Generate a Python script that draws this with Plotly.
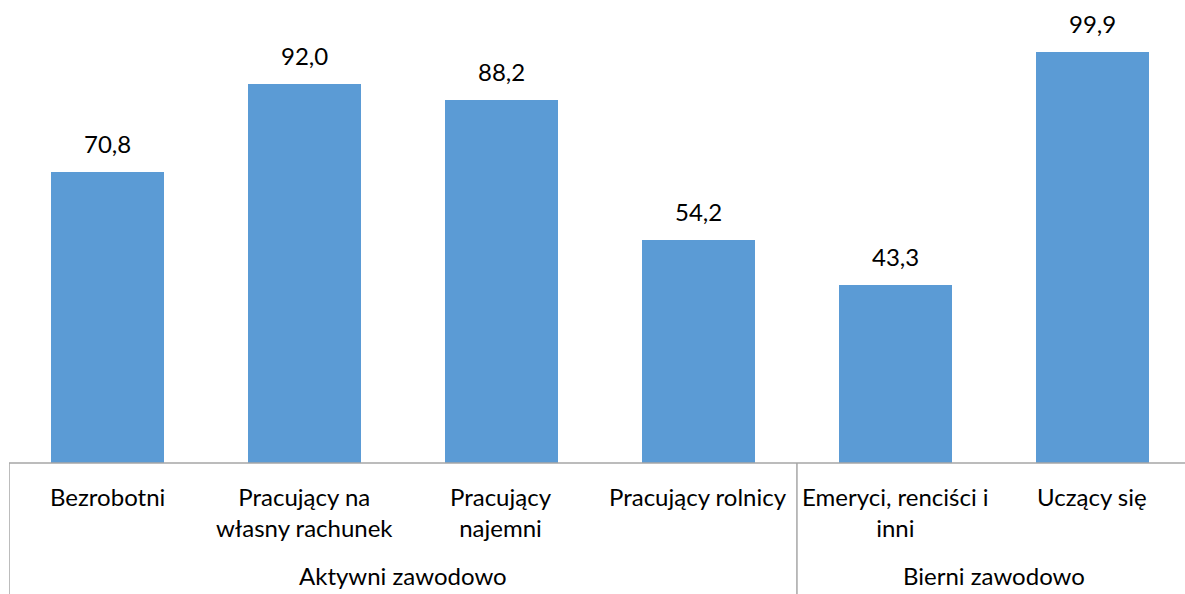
import plotly.graph_objects as go

# Dane
kategorie = ["Bezrobotni", "Pracujący na<br>własny rachunek", "Pracujący<br>najemni",
             "Pracujący rolnicy", "Emeryci, renciści i<br>inni", "Uczący się"]
wartosci = [70.8, 92.0, 88.2, 54.2, 43.3, 99.9]
grupy = ["Aktywni zawodowo", "Bierni zawodowo"]
grupy_zakres = [(0, 3), (4, 5)]

KOLOR = "#5B9BD5"
LINIA = "#A6A6A6"
FONT = "Lato"

x = list(range(len(kategorie)))
fig = go.Figure(go.Bar(x=x, y=wartosci, marker_color=KOLOR, width=0.574,
                       marker_line_width=0, hoverinfo="skip"))

# etykiety wartości nad słupkami
for i, v in enumerate(wartosci):
    fig.add_annotation(x=i, y=v, text=f"{v:.1f}".replace(".", ","), showarrow=False,
                       yanchor="bottom", yshift=12, font=dict(family=FONT, size=24, color="black"))

# etykiety kategorii pod osią
for i, k in enumerate(kategorie):
    fig.add_annotation(x=i, y=0, yref="paper", text=k, showarrow=False,
                       yanchor="top", yshift=-17, font=dict(family=FONT, size=24, color="black"))

# etykiety grup
for g, (a, b) in zip(grupy, grupy_zakres):
    fig.add_annotation(x=(a + b) / 2, y=0, yref="paper", text=g, showarrow=False,
                       yanchor="top", yshift=-96, font=dict(family=FONT, size=24, color="black"))

# linie osi i separatory grup
fig.add_shape(type="line", xref="paper", yref="paper", x0=0, x1=1, y0=0, y1=0,
              line=dict(color=LINIA, width=1.5))
for xs in [-0.5, 3.5]:
    fig.add_shape(type="line", xref="x", yref="paper", x0=xs, x1=xs, y0=0, y1=-0.3,
                  line=dict(color=LINIA, width=1.5))

fig.update_layout(
    width=1185, height=594,
    margin=dict(l=9, r=0, t=0, b=131),
    plot_bgcolor="white", paper_bgcolor="white",
    showlegend=False,
    bargap=0,
)
fig.update_xaxes(range=[-0.5, 5.47], showticklabels=False, showgrid=False, zeroline=False,
                 showline=False, ticks="")
fig.update_yaxes(range=[0, 112.5], visible=False)

fig.write_html("out.html", config={"displayModeBar": False},
               post_script="document.body.style.margin='0';")
